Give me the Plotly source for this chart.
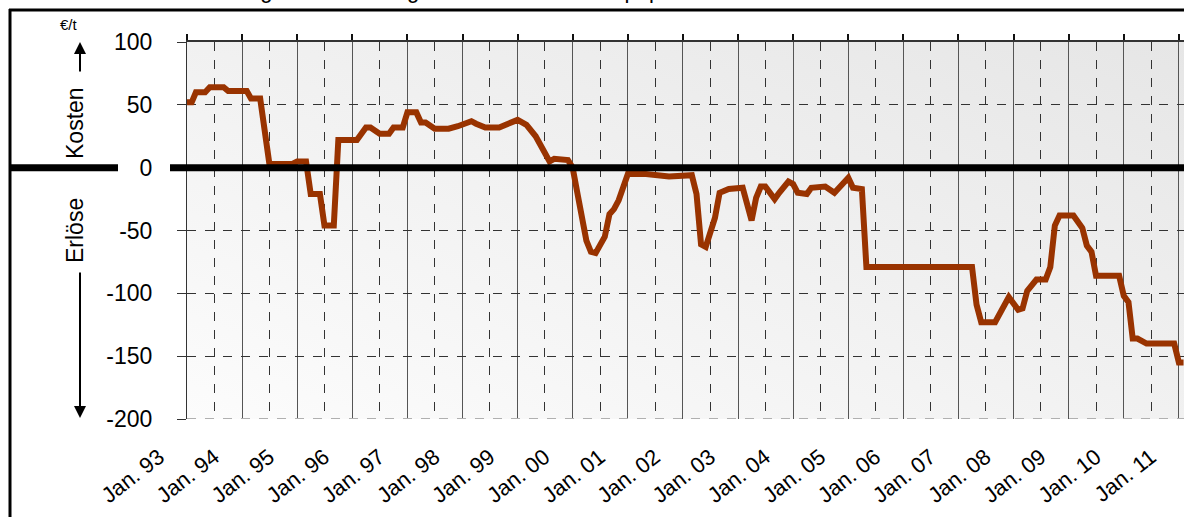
import base64
import plotly.graph_objects as go

# ---- data ----
dates = [
    "1993-01-01", "1993-02-01", "1993-03-01", "1993-05-01", "1993-06-01", "1993-09-01", "1993-10-01",
    "1994-02-01", "1994-03-01", "1994-05-01", "1994-07-01", "1994-12-01",
    "1995-01-01", "1995-03-01", "1995-04-01", "1995-06-01", "1995-07-01", "1995-09-01", "1995-10-01",
    "1996-02-01", "1996-04-01", "1996-05-01", "1996-07-01", "1996-09-01", "1996-10-01", "1996-12-01",
    "1997-01-01", "1997-03-01", "1997-04-01", "1997-05-01", "1997-07-01", "1997-10-01", "1997-12-01",
    "1998-03-01", "1998-04-01", "1998-06-01", "1998-09-01",
    "1999-01-01", "1999-03-01", "1999-05-01", "1999-08-01", "1999-09-01", "1999-12-01",
    "2000-01-01", "2000-02-01", "2000-04-01", "2000-05-01", "2000-06-01", "2000-08-01", "2000-09-01",
    "2000-10-01", "2000-11-01",
    "2001-01-01", "2001-05-01", "2001-10-01",
    "2002-02-01", "2002-03-01", "2002-04-01", "2002-05-01", "2002-06-01", "2002-08-01", "2002-09-01",
    "2002-11-01",
    "2003-02-01", "2003-04-01", "2003-05-01", "2003-06-01", "2003-07-01", "2003-09-01", "2003-10-01",
    "2003-12-01",
    "2004-01-01", "2004-02-01", "2004-04-01", "2004-05-01", "2004-08-01", "2004-10-01", "2004-11-01",
    "2005-01-01", "2005-02-01", "2005-04-01", "2005-05-01",
    "2007-04-01", "2007-05-01", "2007-06-01", "2007-09-01", "2007-12-01",
    "2008-02-01", "2008-03-01", "2008-04-01", "2008-06-01", "2008-08-01", "2008-09-01", "2008-10-01",
    "2008-11-01",
    "2009-02-01", "2009-04-01", "2009-05-01", "2009-06-01", "2009-07-01", "2009-12-01",
    "2010-01-01", "2010-02-01", "2010-03-01", "2010-04-01", "2010-06-01", "2010-12-01",
    "2011-01-01", "2011-02-01",
]
values = [
    52, 52, 60, 60, 64, 64, 61,
    61, 55, 55, 3, 3,
    5, 5, -21, -21, -46, -46, 22,
    22, 32, 32, 27, 27, 32, 32,
    44, 44, 36, 36, 31, 31, 33,
    37, 35, 32, 32,
    38, 34, 25, 5, 7, 6,
    0, -20, -58, -67, -68, -55, -37,
    -33, -26,
    -5, -5, -7,
    -7, -6, -21, -61, -63, -40, -20,
    -17,
    -16, -42, -24, -15, -15, -25, -20,
    -11,
    -13, -20, -21, -16, -15, -20, -16,
    -8, -16, -17, -79,
    -79, -109, -123, -123, -103,
    -113, -112, -98, -89, -89, -79, -46,
    -38,
    -38, -48, -62, -67, -86, -86,
    -102, -107, -136, -136, -140, -140,
    -155, -155,
]
years = list(range(1993, 2012))
jan_ticks = [f"{y}-01-01" for y in years]
jan_labels = [f"Jan. {y % 100:02d}" for y in years]
july_ticks = [f"{y}-07-01" for y in range(1993, 2011)]
y_ticks = [-200, -150, -100, -50, 0, 50, 100]
y_labels = [str(v) for v in y_ticks]

# ---- geometry helpers (pixel -> paper) ----
L, R, T, B = 187, 0, 42, 98
W, H = 1184, 517
PW, PH = W - L - R, H - T - B


def xp(px):
    return (px - L) / PW


def yp(py):
    return (H - B - py) / PH


FONT = "Liberation Sans, Arial, sans-serif"

svg = ("<svg xmlns='http://www.w3.org/2000/svg' width='100' height='100' preserveAspectRatio='none'>"
       "<defs><linearGradient id='g' x1='0' y1='1' x2='1' y2='0'>"
       "<stop offset='0' stop-color='#fcfcfc'/><stop offset='1' stop-color='#e6e6e6'/>"
       "</linearGradient></defs><rect width='100' height='100' fill='url(#g)'/></svg>")
bg_src = "data:image/svg+xml;base64," + base64.b64encode(svg.encode()).decode()

fig = go.Figure()
fig.add_trace(go.Scatter(x=dates, y=values, mode="lines",
                         line=dict(color="#993300", width=6), showlegend=False,
                         hoverinfo="x+y"))
# invisible trace for the top axis
fig.add_trace(go.Scatter(x=[dates[0]], y=[0], xaxis="x2", mode="markers",
                         marker=dict(opacity=0), showlegend=False, hoverinfo="skip"))

x_range = ["1993-01-01", "2011-02-04"]

fig.update_layout(
    width=W, height=H,
    margin=dict(l=L, r=R, t=T, b=B, pad=0, autoexpand=False),
    paper_bgcolor="white",
    plot_bgcolor="rgba(0,0,0,0)",
    font=dict(family=FONT, color="black"),
    xaxis=dict(
        type="date", range=x_range, automargin=False,
        tickmode="array", tickvals=jan_ticks, ticktext=jan_labels,
        tickangle=-38, tickfont=dict(size=22, family=FONT),
        ticks="", ticklabelshift=-28, ticklabelstandoff=20,
        showgrid=True, gridcolor="#555555", gridwidth=1,
        minor=dict(tickvals=july_ticks, showgrid=True, griddash="dash",
                   gridcolor="#333333", gridwidth=1),
        showline=False, zeroline=False,
    ),
    xaxis2=dict(
        type="date", range=x_range, overlaying="x", side="top", automargin=False,
        tickmode="array", tickvals=jan_ticks, showticklabels=False,
        ticks="outside", ticklen=6, tickwidth=2, tickcolor="#111111",
        showline=True, linecolor="#333333", linewidth=2,
        showgrid=False, zeroline=False,
    ),
    yaxis=dict(
        range=[-200, 100], tickmode="array", tickvals=y_ticks, ticktext=y_labels,
        tickfont=dict(size=23, family=FONT), automargin=False,
        ticks="outside", ticklen=9, tickwidth=1, tickcolor="#333333",
        ticklabelstandoff=20,
        showgrid=True, griddash="dash", gridcolor="#333333", gridwidth=1,
        showline=True, linecolor="#333333", linewidth=1,
        zeroline=False,
    ),
    images=[dict(source=bg_src, xref="paper", yref="paper", x=0, y=1,
                 sizex=1, sizey=1, sizing="stretch", layer="below",
                 xanchor="left", yanchor="top")],
    shapes=[
        # light dashed bottom line
        dict(type="line", xref="paper", yref="y", x0=0, x1=1, y0=-200, y1=-200,
             line=dict(color="#b0b0b0", width=2, dash="dash")),
        # thick zero line
        dict(type="line", xref="paper", yref="y", x0=xp(170), x1=1, y0=0, y1=0,
             line=dict(color="black", width=7)),
        dict(type="line", xref="paper", yref="y", x0=xp(11), x1=xp(118), y0=0, y1=0,
             line=dict(color="black", width=7)),
        # frame lines
        dict(type="line", xref="paper", yref="paper", x0=xp(10), x1=xp(10),
             y0=yp(9), y1=yp(H + 5), line=dict(color="black", width=3)),
        dict(type="line", xref="paper", yref="paper", x0=xp(9), x1=xp(W + 5),
             y0=yp(10), y1=yp(10), line=dict(color="black", width=3)),
    ],
    annotations=[
        dict(text="Entwicklung der Zuzahlungen bzw. Erlöse für Altpapier", xref="paper", yref="paper",
             x=xp(420), y=yp(5), xanchor="center", yanchor="bottom", showarrow=False,
             font=dict(size=22, family=FONT, color="black")),
        dict(text="€/t", xref="paper", yref="paper", x=xp(69), y=yp(24),
             xanchor="center", yanchor="middle",
             showarrow=False, font=dict(size=15, family=FONT)),
        dict(text="Kosten", xref="paper", yref="paper", x=xp(75), y=yp(123),
             xanchor="center", yanchor="middle",
             textangle=-90, showarrow=False, font=dict(size=23, family=FONT)),
        dict(text="Erlöse", xref="paper", yref="paper", x=xp(75), y=yp(231),
             xanchor="center", yanchor="middle",
             textangle=-90, showarrow=False, font=dict(size=23, family=FONT)),
        dict(text="", xref="paper", yref="paper", x=xp(80), y=yp(42),
             showarrow=True, ax=0, ay=31, arrowhead=2, arrowsize=1.2, arrowwidth=2,
             arrowcolor="black", standoff=0),
        dict(text="", xref="paper", yref="paper", x=xp(80), y=yp(418),
             showarrow=True, ax=0, ay=-147, arrowhead=2, arrowsize=1.2, arrowwidth=2,
             arrowcolor="black", standoff=0),
    ],
)

fig.write_html(
    "out.html",
    config={"displayModeBar": False},
    post_script="document.documentElement.style.margin='0';document.body.style.margin='0';"
                "document.body.style.overflow='hidden';",
)
